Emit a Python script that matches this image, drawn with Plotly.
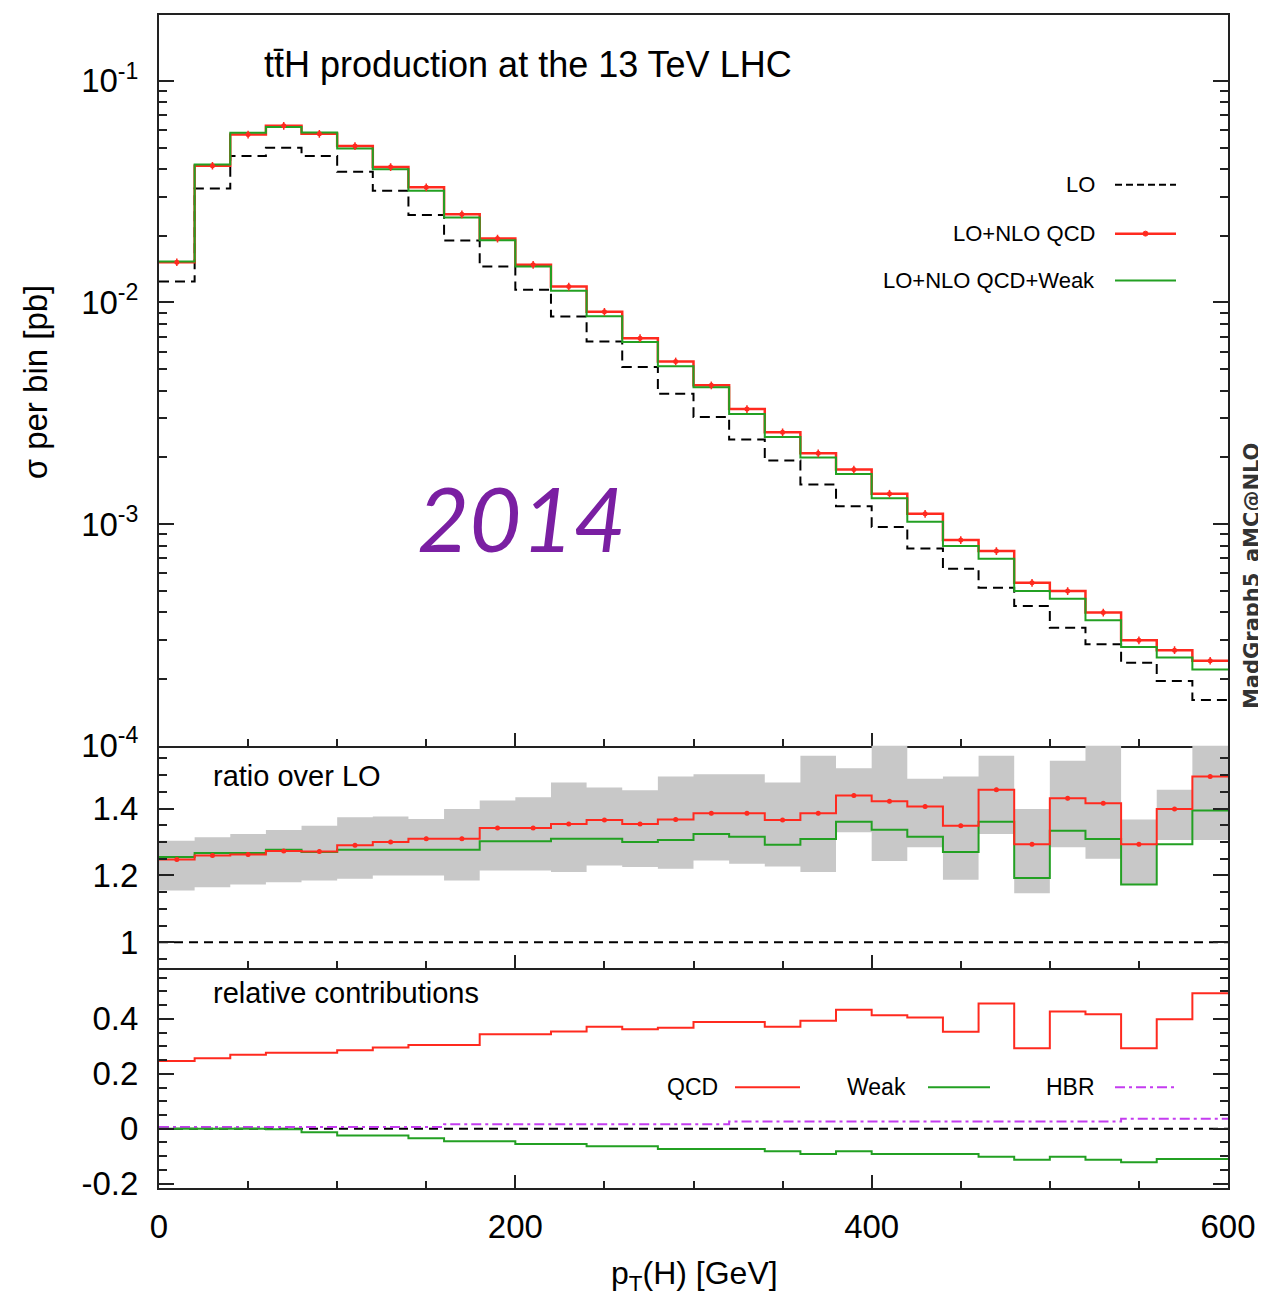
import plotly.graph_objects as go

# ---------------- data ----------------
bin_edges = [0, 20, 40, 60, 80, 100, 120, 140, 160, 180, 200, 220, 240, 260, 280,
             300, 320, 340, 360, 380, 400, 420, 440, 460, 480, 500, 520, 540, 560, 580, 600]
bin_centers = [10, 30, 50, 70, 90, 110, 130, 150, 170, 190, 210, 230, 250, 270, 290,
               310, 330, 350, 370, 390, 410, 430, 450, 470, 490, 510, 530, 550, 570, 590]

# sigma per bin [pb]
sigma_lo = [0.01243, 0.03271, 0.04578, 0.04993, 0.04578, 0.03891, 0.03194, 0.02483, 0.01903, 0.01453,
            0.01141, 0.008646, 0.006672, 0.005112, 0.003879, 0.003043, 0.002406, 0.001936, 0.00151, 0.001205,
            0.00097, 0.000777, 0.000629, 0.000516, 0.000427, 0.000341, 0.000287, 0.000237, 0.000196, 0.000161]
sigma_qcd = [0.01520, 0.04142, 0.05728, 0.0627, 0.0577, 0.05081, 0.04087, 0.03306, 0.02498, 0.01943,
             0.01479, 0.01181, 0.009081, 0.006904, 0.005422, 0.004228, 0.003306, 0.002597, 0.002088, 0.001763,
             0.001372, 0.001113, 0.000847, 0.000756, 0.000544, 0.000499, 0.000399, 0.000299, 0.00027, 0.000242]
sigma_qcd_weak = [0.0153, 0.04198, 0.05831, 0.06186, 0.05849, 0.04955, 0.03986, 0.03194, 0.02415, 0.01909,
                  0.01453, 0.01129, 0.008675, 0.006624, 0.005149, 0.004142, 0.003139, 0.002472, 0.001997, 0.001684,
                  0.001309, 0.001024, 0.000796, 0.000698, 0.000499, 0.000461, 0.000368, 0.000279, 0.00025, 0.000221]

# ratio over LO
ratio_qcd = [1.248, 1.26, 1.263, 1.273, 1.272, 1.29, 1.30, 1.31, 1.31, 1.342,
             1.342, 1.354, 1.366, 1.354, 1.367, 1.386, 1.386, 1.366, 1.386, 1.439,
             1.422, 1.406, 1.349, 1.456, 1.293, 1.431, 1.416, 1.293, 1.399, 1.496]
ratio_qcd_weak = [1.255, 1.267, 1.267, 1.277, 1.27, 1.277, 1.277, 1.277, 1.277, 1.302,
                  1.302, 1.31, 1.31, 1.30, 1.306, 1.324, 1.316, 1.292, 1.309, 1.361,
                  1.337, 1.316, 1.27, 1.361, 1.192, 1.334, 1.309, 1.173, 1.293, 1.394]
band_upper = [1.304, 1.314, 1.324, 1.336, 1.349, 1.374, 1.376, 1.369, 1.399, 1.424,
              1.434, 1.478, 1.463, 1.455, 1.496, 1.503, 1.503, 1.478, 1.558, 1.521,
              1.60, 1.489, 1.496, 1.558, 1.399, 1.543, 1.60, 1.367, 1.456, 1.60]
band_lower = [1.155, 1.165, 1.173, 1.18, 1.185, 1.19, 1.2, 1.2, 1.185, 1.215,
              1.215, 1.21, 1.23, 1.225, 1.22, 1.245, 1.235, 1.227, 1.21, 1.329,
              1.243, 1.284, 1.187, 1.324, 1.147, 1.284, 1.25, 1.173, 1.306, 1.306]

# relative contributions
rel_qcd = [0.247, 0.257, 0.269, 0.277, 0.277, 0.286, 0.296, 0.305, 0.305, 0.344,
           0.344, 0.354, 0.371, 0.362, 0.368, 0.389, 0.389, 0.371, 0.393, 0.433,
           0.413, 0.405, 0.353, 0.456, 0.293, 0.427, 0.417, 0.293, 0.399, 0.493]
rel_weak = [0.0, 0.0, 0.0, -0.002, -0.013, -0.025, -0.025, -0.035, -0.046, -0.046,
            -0.056, -0.056, -0.064, -0.064, -0.074, -0.074, -0.074, -0.082, -0.092, -0.082,
            -0.092, -0.092, -0.092, -0.102, -0.113, -0.102, -0.113, -0.122, -0.11, -0.11]
rel_hbr = [0.006, 0.006, 0.006, 0.006, 0.006, 0.006, 0.006, 0.006, 0.016, 0.016,
           0.016, 0.016, 0.016, 0.016, 0.016, 0.016, 0.026, 0.026, 0.026, 0.026,
           0.026, 0.026, 0.026, 0.026, 0.026, 0.026, 0.026, 0.036, 0.036, 0.036]

top_ticks = [1e-4, 1e-3, 1e-2, 1e-1]
top_ticktext = ["10<sup>-4</sup>", "10<sup>-3</sup>", "10<sup>-2</sup>", "10<sup>-1</sup>"]
ratio_ticks = [1, 1.2, 1.4]
ratio_ticktext = ["1", "1.2", "1.4"]
rel_ticks = [-0.2, 0, 0.2, 0.4]
rel_ticktext = ["-0.2", "0", "0.2", "0.4"]
x_ticks = [0, 200, 400, 600]

# ---------------- styling ----------------
# the page body has an 8px margin, so the figure is drawn 8px smaller and offset
W, H = 1258, 1294
PLOT_L, PLOT_R, PLOT_T, PLOT_B = 159, 1228, 13, 1188      # target page pixels
PW, PH = PLOT_R - PLOT_L, PLOT_B - PLOT_T
L = PLOT_L - 8
T = PLOT_T - 8
R = W - L - PW
B = H - T - PH

def px(X):
    return (X - PLOT_L) / PW

def py(Y):
    return (PLOT_B - Y) / PH

RED = "#ff2a1f"
GREEN = "#23a023"
PURPLE = "#c43cf0"
GRAY = "#c8c8c8"
FONT = "Liberation Sans"

def step(vals):
    return list(vals) + [vals[-1]]

fig = go.Figure()

# --- top panel ---
fig.add_trace(go.Scatter(x=bin_edges, y=step(sigma_lo), mode="lines", line_shape="hv",
                         line=dict(color="black", width=2, dash="10px,6px"),
                         xaxis="x", yaxis="y", showlegend=False))
fig.add_trace(go.Scatter(x=bin_edges, y=step(sigma_qcd), mode="lines", line_shape="hv",
                         line=dict(color=RED, width=2.5), xaxis="x", yaxis="y", showlegend=False))
fig.add_trace(go.Scatter(x=bin_edges, y=step(sigma_qcd_weak), mode="lines", line_shape="hv",
                         line=dict(color=GREEN, width=2), xaxis="x", yaxis="y", showlegend=False))
fig.add_trace(go.Scatter(x=bin_centers, y=sigma_qcd, mode="markers",
                         marker=dict(color=RED, size=5),
                         error_y=dict(type="percent", value=4, color=RED, thickness=1.5, width=0),
                         xaxis="x", yaxis="y", showlegend=False))

# --- ratio panel ---
fig.add_trace(go.Scatter(x=bin_edges, y=step(band_lower), mode="lines", line_shape="hv",
                         line=dict(width=0, color=GRAY), xaxis="x2", yaxis="y2", showlegend=False))
fig.add_trace(go.Scatter(x=bin_edges, y=step(band_upper), mode="lines", line_shape="hv",
                         line=dict(width=0, color=GRAY), fill="tonexty", fillcolor=GRAY,
                         xaxis="x2", yaxis="y2", showlegend=False))
fig.add_trace(go.Scatter(x=bin_edges, y=step(ratio_qcd_weak), mode="lines", line_shape="hv",
                         line=dict(color=GREEN, width=2), xaxis="x2", yaxis="y2", showlegend=False))
fig.add_trace(go.Scatter(x=bin_edges, y=step(ratio_qcd), mode="lines", line_shape="hv",
                         line=dict(color=RED, width=2), xaxis="x2", yaxis="y2", showlegend=False))
fig.add_trace(go.Scatter(x=bin_centers, y=ratio_qcd, mode="markers",
                         marker=dict(color=RED, size=5),
                         error_y=dict(type="constant", value=0.006, color=RED, thickness=1.5, width=0),
                         xaxis="x2", yaxis="y2", showlegend=False))

# --- relative contributions panel ---
fig.add_trace(go.Scatter(x=bin_edges, y=step(rel_hbr), mode="lines", line_shape="hv",
                         line=dict(color=PURPLE, width=2, dash="10px,4px,3px,4px"),
                         xaxis="x3", yaxis="y3", showlegend=False))
fig.add_trace(go.Scatter(x=bin_edges, y=step(rel_weak), mode="lines", line_shape="hv",
                         line=dict(color=GREEN, width=2), xaxis="x3", yaxis="y3", showlegend=False))
fig.add_trace(go.Scatter(x=bin_edges, y=step(rel_qcd), mode="lines", line_shape="hv",
                         line=dict(color=RED, width=2), xaxis="x3", yaxis="y3", showlegend=False))

# reference lines
shapes = [
    dict(type="line", xref="paper", yref="y2", x0=0, x1=1, y0=1, y1=1,
         line=dict(color="black", width=2, dash="9px,6px"), layer="below"),
    dict(type="line", xref="paper", yref="y3", x0=0, x1=1, y0=0, y1=0,
         line=dict(color="black", width=2, dash="9px,6px"), layer="below"),
]

# legend samples
shapes += [
    dict(type="line", xref="paper", yref="paper", x0=px(1115), x1=px(1176), y0=py(183), y1=py(183),
         line=dict(color="black", width=2, dash="7px,4px")),
    dict(type="line", xref="paper", yref="paper", x0=px(1115), x1=px(1176), y0=py(232), y1=py(232),
         line=dict(color=RED, width=2.5)),
    dict(type="circle", xref="paper", yref="paper", x0=px(1143), x1=px(1148), y0=py(234.5), y1=py(229.5),
         fillcolor=RED, line=dict(color=RED, width=1)),
    dict(type="line", xref="paper", yref="paper", x0=px(1115), x1=px(1176), y0=py(279), y1=py(279),
         line=dict(color=GREEN, width=2)),
    dict(type="line", xref="paper", yref="paper", x0=px(735), x1=px(800), y0=py(1087), y1=py(1087),
         line=dict(color=RED, width=2)),
    dict(type="line", xref="paper", yref="paper", x0=px(928), x1=px(990), y0=py(1087), y1=py(1087),
         line=dict(color=GREEN, width=2)),
    dict(type="line", xref="paper", yref="paper", x0=px(1115), x1=px(1178), y0=py(1087), y1=py(1087),
         line=dict(color=PURPLE, width=2, dash="10px,4px,3px,4px")),
]

def ann(text, X, Y, size, xanchor="left", yanchor="middle", **kw):
    d = dict(text=text, x=px(X), y=py(Y), xref="paper", yref="paper", showarrow=False,
             xanchor=xanchor, yanchor=yanchor, font=dict(family=FONT, size=size, color="black"))
    d.update(kw)
    return d

annotations = [
    ann("tt\u0304H production at the 13 TeV LHC", 262, 63, 36),
    ann("LO", 1097, 183, 22, xanchor="right"),
    ann("LO+NLO QCD", 1097, 232, 22, xanchor="right"),
    ann("LO+NLO QCD+Weak", 1097, 279, 22, xanchor="right"),
    ann("ratio over LO", 211, 775, 29),
    ann("relative contributions", 211, 993, 29),
    ann("QCD", 720, 1087, 23, xanchor="right"),
    ann("Weak", 908, 1087, 23, xanchor="right"),
    ann("HBR", 1097, 1087, 23, xanchor="right"),
    ann("\u03c3 per bin [pb]", 35, 381, 33, xanchor="center", textangle=-90),
    ann("p<sub>T</sub>(H) [GeV]", 694, 1276, 32, xanchor="center"),
    ann("MadGraph5_aMC@NLO", 1252, 575, 21, xanchor="center", textangle=-90,
        font=dict(family="DejaVu Sans", size=21, color="#333333", weight="bold")),
    ann("2014", 521, 516, 90, xanchor="center",
        font=dict(family="Lato", size=90, color="#7a1fa2", style="italic")),
]

axis_line = dict(showline=True, linecolor="#222222", linewidth=2, showgrid=False, zeroline=False)
tickfont = dict(family=FONT, size=33, color="black")

def xaxis_common(mirror):
    return dict(range=[0, 600], tickvals=x_ticks, ticks="inside", ticklen=13, tickwidth=1.5,
                tickcolor="#222222", mirror=mirror,
                minor=dict(dtick=50, tick0=0, ticks="inside", ticklen=7, tickwidth=1.5,
                           tickcolor="#222222", showgrid=False),
                **axis_line)

top_minor = [m * 10 ** e for e in (-4, -3, -2, -1) for m in (2, 3, 4, 5, 6, 7, 8, 9)]

d_rel = (0, py(968))
d_ratio = (py(968), py(745))
d_top = (py(745), 1)

fig.update_layout(
    width=W, height=H,
    margin=dict(l=L, r=R, t=T, b=B),
    paper_bgcolor="white", plot_bgcolor="white",
    showlegend=False,
    xaxis=dict(domain=[0, 1], anchor="y", showticklabels=False, **xaxis_common(True)),
    xaxis2=dict(domain=[0, 1], anchor="y2", matches="x", showticklabels=False, **xaxis_common(False)),
    xaxis3=dict(domain=[0, 1], anchor="y3", matches="x", showticklabels=True,
                tickfont=tickfont, ticklabelstandoff=8, **xaxis_common(False)),
    yaxis=dict(domain=list(d_top), anchor="x", type="log", range=[-4, -0.703],
               tickmode="array", tickvals=top_ticks, ticktext=top_ticktext,
               ticks="inside", ticklen=15, tickwidth=1.5, tickcolor="#222222", mirror="ticks",
               tickfont=tickfont, ticklabelstandoff=12,
               minor=dict(tickmode="array", tickvals=top_minor, ticks="inside", ticklen=8,
                          tickwidth=1.5, tickcolor="#222222", showgrid=False),
               **axis_line),
    yaxis2=dict(domain=list(d_ratio), anchor="x2", range=[0.922, 1.588],
                tickmode="array", tickvals=ratio_ticks, ticktext=ratio_ticktext,
                ticks="inside", ticklen=15, tickwidth=1.5, tickcolor="#222222", mirror="ticks",
                tickfont=tickfont, ticklabelstandoff=12,
                minor=dict(dtick=0.05, tick0=0, ticks="inside", ticklen=8, tickwidth=1.5,
                           tickcolor="#222222", showgrid=False),
                **axis_line),
    yaxis3=dict(domain=list(d_rel), anchor="x3", range=[-0.216, 0.584],
                tickmode="array", tickvals=rel_ticks, ticktext=rel_ticktext,
                ticks="inside", ticklen=15, tickwidth=1.5, tickcolor="#222222", mirror="ticks",
                tickfont=tickfont, ticklabelstandoff=12,
                minor=dict(dtick=0.05, tick0=0, ticks="inside", ticklen=8, tickwidth=1.5,
                           tickcolor="#222222", showgrid=False),
                **axis_line),
    shapes=shapes,
    annotations=annotations,
)

fig.write_html("out.html")
